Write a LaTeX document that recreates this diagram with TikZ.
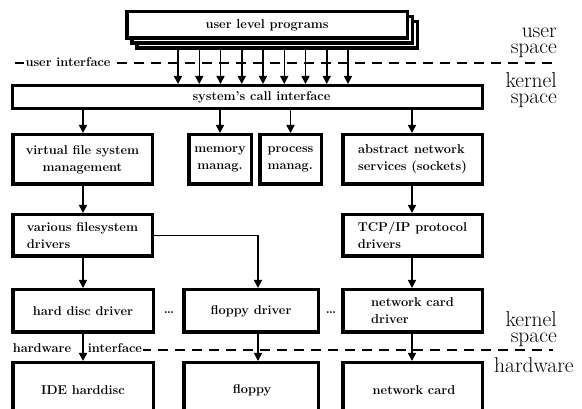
\documentclass[tikz,border=0pt]{standalone}
\usepackage{amsmath}
\usetikzlibrary{arrows.meta,calc,positioning}
\newcommand{\boxfont}{\fontsize{12.8}{17}\selectfont\bfseries}
\tikzset{
  box/.style={draw, line width=3.5pt, fill=white, inner sep=2pt, font=\boxfont},
  flow/.style={-{Triangle[length=8pt,width=8pt]}, line width=1.5pt},
  iface/.style={dash pattern=on 10pt off 7pt, line width=1.6pt},
  iface text/.style={fill=white, inner xsep=2pt, inner ysep=1pt, font=\boxfont},
  side label/.style={anchor=north east, align=right, inner sep=0pt, font=\fontsize{21.5}{16}\selectfont},
}

\begin{document}
\begin{tikzpicture}[x=1pt, y=-1pt]

  % frame of the picture
  \useasboundingbox (0,0) rectangle (582,409);
  \clip (0,0) rectangle (582,409);

  % interface lines
  \draw[iface] (15,63) -- (553,63);
  \draw[iface] (141,350) -- (553,350);
  \node[iface text] (uif) at (68,62) {user interface};
  \node[iface text, inner xsep=1pt] (hwa) at (42,348) {hardware};
  \node[iface text, inner xsep=1pt] (hwb) at (115,348) {interface};

  % user level programs (stacked)
  \node[box, minimum width=280.5pt, minimum height=26.5pt] (prog3) at (277,35) {};
  \node[box, minimum width=280.5pt, minimum height=26.5pt] (prog2) at (272,30) {};
  \node[box, minimum width=280.5pt, minimum height=26.5pt] (prog) at (267,25) {user level programs};

  % system's call interface
  \node[box, line width=3pt, minimum width=470pt, minimum height=23pt] (sys) at (247.5,97) {\hspace*{28pt}system's call interface};

  % second row
  \node[box, minimum width=139.5pt, minimum height=49.5pt, align=center] (vfs) at (82.5,159.5) {virtual file system\\management};
  \node[box, minimum width=62.5pt, minimum height=49.5pt, align=center] (mem) at (220,159.5) {memory\\manag.};
  \node[box, minimum width=61.5pt, minimum height=49.5pt, align=left] (proc) at (290.5,159.5) {process\\manag.};
  \node[box, minimum width=139.5pt, minimum height=49.5pt, align=left] (ans) at (412.5,159.5) {abstract network\\services (sockets)};

  % third row
  \node[box, minimum width=139.5pt, minimum height=41.5pt, align=left] (vfd) at (82.5,235.5) {various filesystem\\drivers};
  \node[box, minimum width=139.5pt, minimum height=41.5pt, align=left] (tcp) at (412.5,235.5) {TCP/IP protocol\\drivers};

  % drivers
  \node[box, minimum width=140.5pt, minimum height=42.5pt] (hdd) at (83,311) {hard disc driver};
  \node[box, minimum width=134.5pt, minimum height=42.5pt] (fdd) at (251,311) {floppy driver};
  \node[box, minimum width=139.5pt, minimum height=42.5pt, align=left] (ncd) at (412.5,311) {network card\\driver};
  \node[font=\boxfont, inner sep=0pt] (dots1) at (169,313) {\ldots};
  \node[font=\boxfont, inner sep=0pt] (dots2) at (331,313) {\ldots};

  % hardware
  \node[box, minimum width=140.5pt, minimum height=65.5pt] (ide) at (83,395.5) {};
  \node[box, minimum width=134.5pt, minimum height=65.5pt] (fl) at (251,395.5) {};
  \node[box, minimum width=139.5pt, minimum height=65.5pt] (nc) at (412.5,395.5) {};
  \node[font=\boxfont] (idet) at (83,390) {IDE harddisc};
  \node[font=\boxfont] (flt) at (252,390) {floppy};
  \node[font=\boxfont] (nct) at (414,390) {network card};

  % calls from user space
  \foreach \i in {0,...,8} {
    \pgfmathsetmacro{\xx}{178+21.25*\i}
    \coordinate (c\i) at (\xx,0);
    \draw[flow] (prog3.south -| c\i) -- (sys.north -| c\i);
  }

  % kernel connections
  \coordinate (colA) at (83,0);
  \coordinate (colB) at (258,0);
  \coordinate (colC) at (412,0);
  \draw[flow] (sys.south -| colA) -- (vfs.north -| colA);
  \draw[flow] (sys.south -| mem) -- (mem.north);
  \draw[flow] (sys.south -| proc) -- (proc.north);
  \draw[flow] (sys.south -| colC) -- (ans.north -| colC);
  \draw[flow] (vfs.south -| colA) -- (vfd.north -| colA);
  \draw[flow] (ans.south -| colC) -- (tcp.north -| colC);
  \draw[flow] (vfd.south -| colA) -- (hdd.north -| colA);
  \draw[flow] (tcp.south -| colC) -- (ncd.north -| colC);
  \draw[flow] (vfd.east) -| (fdd.north -| colB);
  \draw[flow] (hdd.south -| colA) -- (ide.north -| colA);
  \draw[flow] (fdd.south -| colB) -- (fl.north -| colB);
  \draw[flow] (ncd.south -| colC) -- (nc.north -| colC);

  % space labels
  \node[side label] (us) at (557,27.5) {user\\space};
  \node[side label] (ks) at (557,72) {kernel\\space};
  \node[side label] (ksl) at (557,311) {kernel\\space};
  \node[side label, anchor=base west] (hw) at (494,372) {hardware};

\end{tikzpicture}
\end{document}
